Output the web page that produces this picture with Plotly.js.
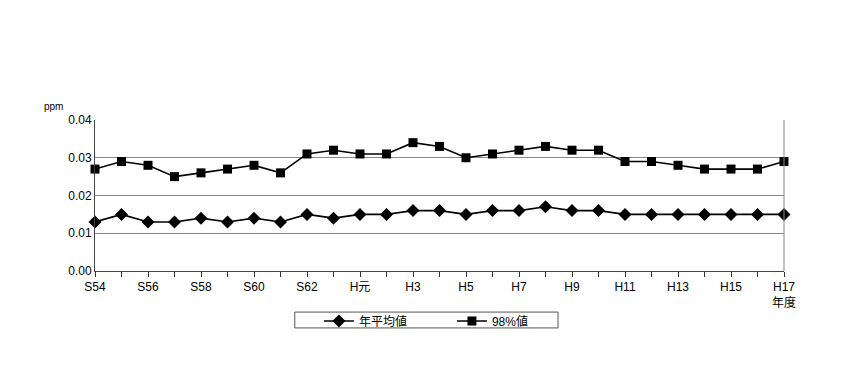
<!DOCTYPE html>
<html><head><meta charset="utf-8">
<script src="https://cdn.plot.ly/plotly-3.0.1.min.js"></script>
<style>body{margin:0;background:#fff}#c{width:850px;height:385px}</style>
</head><body><div id="c"></div>
<script>
const years = ['S54','S55','S56','S57','S58','S59','S60','S61','S62','S63','H元','H2','H3','H4','H5','H6','H7','H8','H9','H10','H11','H12','H13','H14','H15','H16','H17'];
const tickLabels = ['S54','','S56','','S58','','S60','','S62','','H元','','H3','','H5','','H7','','H9','','H11','','H13','','H15','','H17'];
const annualMean = [0.013,0.015,0.013,0.013,0.014,0.013,0.014,0.013,0.015,0.014,0.015,0.015,0.016,0.016,0.015,0.016,0.016,0.017,0.016,0.016,0.015,0.015,0.015,0.015,0.015,0.015,0.015];
const value98 = [0.027,0.029,0.028,0.025,0.026,0.027,0.028,0.026,0.031,0.032,0.031,0.031,0.034,0.033,0.030,0.031,0.032,0.033,0.032,0.032,0.029,0.029,0.028,0.027,0.027,0.027,0.029];
const seriesNames = ['年平均値','98%値'];
const yTicks = [0,0.01,0.02,0.03,0.04];
const yTickText = ['0.00','0.01','0.02','0.03','0.04'];

const font = "Liberation Sans, Arial, Noto Sans CJK JP, sans-serif";
const traces = [
  {x: years, y: annualMean, name: seriesNames[0], type:'scatter', mode:'lines+markers',
   line:{color:'#000', width:1.6}, marker:{symbol:'diamond', size:10, color:'#000'}, cliponaxis:false},
  {x: years, y: value98, name: seriesNames[1], type:'scatter', mode:'lines+markers',
   line:{color:'#000', width:1.6}, marker:{symbol:'square', size:9, color:'#000'}, cliponaxis:false}
];
const layout = {
  width:850, height:385,
  margin:{l:95, r:66, t:120, b:114},
  paper_bgcolor:'#fff', plot_bgcolor:'#fff',
  font:{family:font, size:11, color:'#000'},
  showlegend:true,
  legend:{orientation:'h', x:0.325, xanchor:'left', y:-0.235, yanchor:'top',
    borderwidth:0, bgcolor:'rgba(0,0,0,0)', entrywidth:88, entrywidthmode:'pixels',
    font:{family:font, size:12}, itemwidth:30, tracegroupgap:0},
  xaxis:{type:'category', categoryorder:'array', categoryarray:years,
    range:[0, years.length-1], tickmode:'array', tickvals:years, ticktext:tickLabels,
    ticks:'outside', ticklen:5, tickcolor:'#333', showline:true, linecolor:'#444', linewidth:1,
    showgrid:false, zeroline:false, mirror:false, tickfont:{size:12, family:font}, automargin:false},
  yaxis:{range:[0,0.04], tickmode:'array', tickvals:yTicks, ticktext:yTickText,
    showline:true, linecolor:'#444', linewidth:1, showgrid:true, gridcolor:'#888', gridwidth:1,
    zeroline:false, ticks:'', ticklen:0, tickfont:{size:12, family:font}, automargin:false},
  shapes:[
    {type:'line', xref:'paper', yref:'paper', x0:1, x1:1, y0:0, y1:1, line:{color:'#888', width:1}},
    {type:'rect', xref:'paper', yref:'paper', x0:0.290, x1:0.672, y0:-0.377, y1:-0.272, line:{color:'#555', width:1}}
  ],
  annotations:[
    {text:'ppm', xref:'paper', yref:'paper', x:-0.06, y:1.09, xanchor:'center', yanchor:'middle', showarrow:false, font:{size:10, family:font}},
    {text:'年度', xref:'paper', yref:'paper', x:1.0, y:-0.21, xanchor:'center', yanchor:'middle', showarrow:false, font:{size:12, family:font}}
  ]
};
Plotly.newPlot('c', traces, layout, {displayModeBar:false, staticPlot:true});
</script></body></html>
